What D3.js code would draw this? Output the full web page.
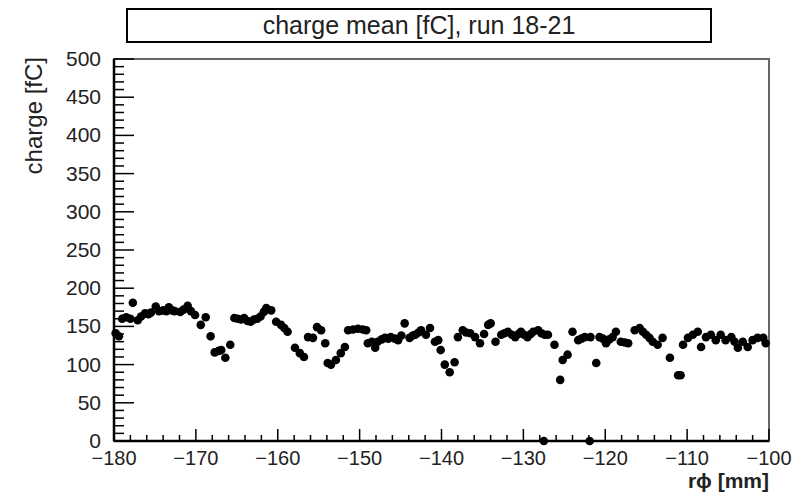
<!DOCTYPE html>
<html>
<head>
<meta charset="utf-8">
<script src="https://d3js.org/d3.v7.min.js"></script>
<style>
  body { margin: 0; background: #fff; }
  svg { display: block; font-family: "Liberation Sans", Arial, sans-serif; }
</style>
</head>
<body>
<svg id="chart" width="799" height="495"></svg>
<script>
// r*phi position [mm] and mean charge [fC]
const rphi = [
  -179.8, -179.4, -179.0, -178.5, -178.0, -177.7, -177.1, -176.7, -176.2, -175.8,
  -175.5, -174.9, -174.5, -174.0, -173.6, -173.3, -172.9, -172.6, -171.9, -171.5,
  -171.0, -170.6, -170.1, -169.4, -168.8, -168.2, -167.7, -167.2, -166.9, -166.4,
  -165.8, -165.3, -164.9, -164.5, -164.1, -163.7, -163.3, -162.9, -162.5, -162.1,
  -161.7, -161.4, -160.8, -160.2, -159.6, -159.2, -158.8, -157.9, -157.3, -156.8,
  -156.3, -155.7, -155.2, -154.7, -154.2, -153.9, -153.5, -152.9, -152.3, -151.8,
  -151.4, -150.8, -150.2, -149.6, -149.2, -149.0, -148.5, -148.1, -147.8, -147.3,
  -146.9, -146.5, -146.2, -145.7, -145.3, -144.9, -144.5, -143.9, -143.5, -143.2,
  -142.8, -142.5, -141.9, -141.4, -140.8, -140.4, -140.1, -139.6, -139.0, -138.4,
  -138.0, -137.4, -137.0, -136.5, -135.9, -135.3, -134.8, -134.3, -134.0, -133.4,
  -132.7, -132.3, -131.9, -131.4, -131.0, -130.6, -130.3, -129.9, -129.5, -129.1,
  -128.8, -128.2, -127.8, -127.5, -127.4, -127.0, -126.2, -125.5, -125.2, -124.6,
  -124.0, -123.3, -122.9, -122.5, -121.9, -121.8, -121.1, -120.7, -120.3, -119.9,
  -119.5, -119.1, -118.7, -118.1, -117.6, -117.2, -116.4, -115.8, -115.4, -115.0,
  -114.6, -114.2, -113.6, -113.0, -112.1, -111.1, -110.8, -110.5, -109.9, -109.3,
  -108.7, -108.3, -107.7, -107.1, -106.5, -105.9, -105.3, -104.6, -104.2, -103.8,
  -103.2, -102.6, -102.0, -101.4, -100.7, -100.4
];
const charge = [
  141, 137, 160, 162, 160, 181, 158, 163, 167, 166,
  168, 176, 170, 171, 170, 175, 171, 170, 169, 172,
  177, 170, 165, 152, 162, 137, 116, 118, 119, 109,
  126, 161, 160, 159, 161, 157, 156, 159, 160, 163,
  169, 174, 171, 156, 152, 148, 143, 122, 115, 110,
  136, 135, 149, 145, 128, 102, 100, 106, 115, 123,
  145, 146, 147, 146, 145, 128, 130, 122, 130, 133,
  135, 134, 136, 134, 132, 138, 154, 135, 138, 139,
  142, 145, 139, 148, 130, 132, 119, 100, 90, 103,
  136, 145, 142, 141, 136, 128, 140, 152, 154, 130,
  139, 141, 143, 139, 136, 140, 143, 139, 136, 140,
  143, 145, 141, 0, 139, 139, 126, 80, 106, 113,
  143, 132, 134, 136, 0, 136, 102, 136, 134, 128,
  133, 136, 143, 130, 129, 128, 145, 148, 143, 139,
  135, 130, 126, 135, 109, 86, 86, 126, 135, 139,
  143, 123, 136, 139, 132, 139, 132, 136, 130, 122,
  130, 123, 132, 135, 135, 128
];

const xDomain = [-180, -100];
const yDomain = [0, 500];
const titleText = "charge mean [fC], run 18-21";
const xTitle = "r\u03D5 [mm]";
const yTitle = "charge [fC]";

const width = 799, height = 495;
const margin = {top: 59, right: 30, bottom: 54, left: 114};
const iw = width - margin.left - margin.right;
const ih = height - margin.top - margin.bottom;

const svg = d3.select("#chart");

const x = d3.scaleLinear().domain(xDomain).range([0, iw]);
const y = d3.scaleLinear().domain(yDomain).range([ih, 0]);

const g = svg.append("g")
    .attr("transform", `translate(${margin.left},${margin.top})`);

// frame
g.append("rect")
    .attr("width", iw)
    .attr("height", ih)
    .attr("fill", "none")
    .attr("stroke", "#666")
    .attr("stroke-width", 2);

// y axis: major every 50, minor every 10, ticks inside the frame
const yMajor = d3.range(0, 501, 50);
const yMinor = d3.range(0, 501, 10).filter(v => v % 50 !== 0);

g.append("g").selectAll("line")
    .data(yMinor)
    .join("line")
    .attr("x1", 0).attr("x2", 10)
    .attr("y1", d => y(d)).attr("y2", d => y(d))
    .attr("stroke", "#000").attr("stroke-width", 1.5);

g.append("g").selectAll("line")
    .data(yMajor)
    .join("line")
    .attr("x1", 0).attr("x2", 20)
    .attr("y1", d => y(d)).attr("y2", d => y(d))
    .attr("stroke", "#000").attr("stroke-width", 1.5);

g.append("g")
    .style("font-size", "21px")
    .attr("text-anchor", "end")
    .selectAll("text")
    .data(yMajor)
    .join("text")
    .attr("x", -13)
    .attr("y", d => y(d) + 7)
    .attr("fill", "#222")
    .text(d => d);

// x axis: major every 10, minor every 2
const xMajor = d3.range(-180, -99, 10);
const xMinor = d3.range(-180, -99, 2).filter(v => v % 10 !== 0);

g.append("g").selectAll("line")
    .data(xMinor)
    .join("line")
    .attr("x1", d => x(d)).attr("x2", d => x(d))
    .attr("y1", ih).attr("y2", ih - 6)
    .attr("stroke", "#000").attr("stroke-width", 1.5);

g.append("g").selectAll("line")
    .data(xMajor)
    .join("line")
    .attr("x1", d => x(d)).attr("x2", d => x(d))
    .attr("y1", ih).attr("y2", ih - 12)
    .attr("stroke", "#000").attr("stroke-width", 1.5);

g.append("g")
    .style("font-size", "20px")
    .attr("text-anchor", "middle")
    .selectAll("text")
    .data(xMajor)
    .join("text")
    .attr("x", d => x(d))
    .attr("y", ih + 24)
    .attr("fill", "#222")
    .text(d => d3.format("")(d).replace("-", "\u2212"));

// axis lines
g.append("line")
    .attr("x1", 0).attr("x2", 0).attr("y1", 0).attr("y2", ih)
    .attr("stroke", "#000").attr("stroke-width", 2.5);
g.append("line")
    .attr("x1", 0).attr("x2", iw).attr("y1", ih).attr("y2", ih)
    .attr("stroke", "#000").attr("stroke-width", 2.5);

// points
g.append("g")
    .selectAll("circle")
    .data(rphi.map((v, i) => [v, charge[i]]))
    .join("circle")
    .attr("cx", d => x(d[0]))
    .attr("cy", d => y(d[1]))
    .attr("r", 4.3)
    .attr("fill", "#000");

// axis titles
svg.append("text")
    .attr("transform", `translate(42,${margin.top - 2}) rotate(-90)`)
    .attr("text-anchor", "end")
    .style("font-size", "24px")
    .attr("fill", "#222")
    .text(yTitle);

svg.append("text")
    .attr("x", margin.left + iw)
    .attr("y", 488)
    .attr("text-anchor", "end")
    .style("font-size", "21px")
    .style("font-weight", "bold")
    .attr("fill", "#222")
    .text(xTitle);

// title box
svg.append("rect")
    .attr("x", 127).attr("y", 9)
    .attr("width", 584).attr("height", 33)
    .attr("fill", "#fff")
    .attr("stroke", "#000")
    .attr("stroke-width", 2);

svg.append("text")
    .attr("x", 419)
    .attr("y", 34)
    .attr("text-anchor", "middle")
    .style("font-size", "25px")
    .attr("fill", "#222")
    .text(titleText);
</script>
</body>
</html>
